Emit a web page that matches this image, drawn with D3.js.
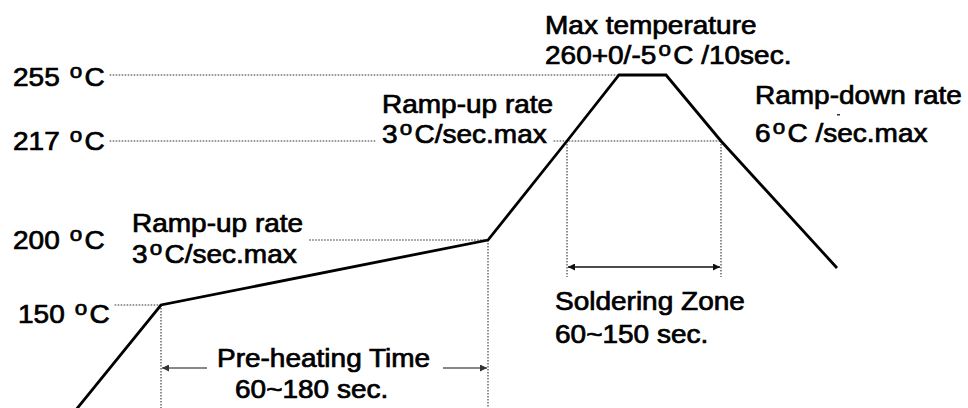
<!DOCTYPE html>
<html><head><meta charset="utf-8">
<script src="https://cdn.jsdelivr.net/npm/d3@7"></script>
<style>body{margin:0;background:#fff} text{white-space:pre}</style>
</head><body>
<svg id="c" width="968" height="408"></svg>
<script>
// ---- data (schematic reflow profile) ----
const profileTime = [9, 60.5, 224, 263.5, 289.5, 313, 340.5, 398.5];
const profileTemp = [25, 150, 200, 217, 255, 255, 217, 178.5];
const tempLevels  = [255, 217, 200, 150];
const tempLabels  = ["255 ºC", "217 ºC", "200 ºC", "150 ºC"];
const preheatTimes = [60.5, 224];
const solderTimes  = [263.5, 340.5];
const peakTime = 289.5;
const maxTempText   = ["Max temperature", "260+0/-5ºC /10sec."];
const rampUp1Text   = ["Ramp-up rate", "3ºC/sec.max"];
const rampUp2Text   = ["Ramp-up rate", "3ºC/sec.max"];
const rampDownText  = ["Ramp-down rate", "6ºC /sec.max"];
const preheatText   = ["Pre-heating Time", "60~180 sec."];
const solderText    = ["Soldering Zone", "60~150 sec."];

// ---- setup ----
const svg = d3.select("#c");
svg.append("rect").attr("width", 968).attr("height", 408).attr("fill", "#fff");
const W = 968, H = 408;
const x = d3.scaleLinear().domain([0, 450]).range([40, 940]);
const y = d3.scaleLinear().domain([25, 150, 200, 217, 255]).range([432, 305, 240, 141, 75]);

const FS = 25, SX = 1.12, FONT = "'Liberation Sans', Arial, Helvetica, sans-serif";

function addText(g, str, tx, ty) {
  const t = g.append("text")
    .attr("transform", `translate(${tx},${ty}) scale(${SX},1)`)
    .attr("font-family", FONT).attr("font-size", FS)
    .attr("fill", "#000").attr("stroke", "#000").attr("stroke-width", 0.7);
  const parts = str.split("º");
  t.append("tspan").text(parts[0]);
  for (let i = 1; i < parts.length; i++) {
    t.append("tspan").attr("font-size", 20).attr("dx", 2).attr("dy", -8).text("o");
    t.append("tspan").attr("dx", 2).attr("dy", 8).text(parts[i]);
  }
  return t;
}
function addBlock(g, lines, tx, ty, lh, dx2) {
  return lines.map((s, i) => addText(g, s, tx + (i === 1 && dx2 ? dx2 : 0), ty + i * lh));
}

const gGuide = svg.append("g");
const gMask = svg.append("g");
const gText = svg.append("g");
const gLine = svg.append("g");

// ---- texts ----
const labelDx = [13, 13, 13, 18];
const labelDy = [11, 9, 9, 18];
const labelNodes = tempLevels.map((t, i) => addText(gText, tempLabels[i], labelDx[i], y(t) + labelDy[i]));

addBlock(gText, maxTempText, 545, 34, 30);
const ru1 = addBlock(gText, rampUp1Text, 382, 113, 30);
const ru2 = addBlock(gText, rampUp2Text, 132, 232, 31);
addBlock(gText, rampDownText, 755, 104, 38);
addBlock(gText, preheatText, 217, 367, 31, 18);
addBlock(gText, solderText, 555, 310, 33);

// small stray tick mark seen under "Ramp-down rate"
gText.append("rect").attr("x", 837).attr("y", 114).attr("width", 3).attr("height", 1.5).attr("fill", "#333");

const rightOf = n => n.node().getBoundingClientRect().right;

// white mask behind upper ramp-up second line (interrupts 217 guide)
const bb = ru1[1].node().getBoundingClientRect();
gMask.append("rect").attr("x", bb.left - 6).attr("y", bb.top).attr("width", bb.width + 12).attr("height", bb.height).attr("fill", "#fff");

// ---- guide (dotted) lines ----
const dotted = sel => sel.attr("stroke", "#333").attr("stroke-width", 1.1).attr("stroke-dasharray", "1.6,1.4").attr("fill", "none");
const hGuides = [
  {t: 255, x0: rightOf(labelNodes[0]) + 5, x1: x(peakTime)},
  {t: 217, x0: rightOf(labelNodes[1]) + 5, x1: x(solderTimes[1])},
  {t: 200, x0: rightOf(ru2[0]) + 6, x1: x(preheatTimes[1])},
  {t: 150, x0: rightOf(labelNodes[3]) + 5, x1: x(preheatTimes[0])}
];
hGuides.forEach(g => dotted(gGuide.append("line").attr("x1", g.x0).attr("x2", g.x1).attr("y1", y(g.t)).attr("y2", y(g.t))));
// verticals
dotted(gGuide.append("line").attr("x1", x(preheatTimes[0])).attr("x2", x(preheatTimes[0])).attr("y1", y(150)).attr("y2", H));
dotted(gGuide.append("line").attr("x1", x(preheatTimes[1])).attr("x2", x(preheatTimes[1])).attr("y1", y(200)).attr("y2", H));
solderTimes.forEach(t => dotted(gGuide.append("line").attr("x1", x(t)).attr("x2", x(t)).attr("y1", y(217)).attr("y2", 277)));

// ---- arrows ----
const defs = svg.append("defs");
function marker(id, color) {
  defs.append("marker").attr("id", id).attr("viewBox", "0 0 10 10").attr("refX", 10).attr("refY", 5)
    .attr("markerWidth", 10).attr("markerHeight", 7).attr("markerUnits", "userSpaceOnUse").attr("orient", "auto-start-reverse")
    .append("path").attr("d", "M0,0L10,5L0,10Z").attr("fill", color);
}
marker("ab", "#111");
marker("ag", "#333");
// soldering zone double arrow
gLine.append("line").attr("x1", x(solderTimes[0]) + 1).attr("x2", x(solderTimes[1]) - 1).attr("y1", 267).attr("y2", 267)
  .attr("stroke", "#111").attr("stroke-width", 1.6).attr("marker-start", "url(#ab)").attr("marker-end", "url(#ab)");
// preheat arrows
gLine.append("line").attr("x1", x(preheatTimes[0]) + 46).attr("x2", x(preheatTimes[0]) + 1).attr("y1", 368).attr("y2", 368)
  .attr("stroke", "#888").attr("stroke-width", 2).attr("marker-end", "url(#ag)");
gLine.append("line").attr("x1", x(preheatTimes[1]) - 45).attr("x2", x(preheatTimes[1]) - 1).attr("y1", 368).attr("y2", 368)
  .attr("stroke", "#888").attr("stroke-width", 2).attr("marker-end", "url(#ag)");

// ---- profile line ----
const pts = profileTime.map((t, i) => [t, profileTemp[i]]);
gLine.append("path").datum(pts)
  .attr("d", d3.line().x(d => x(d[0])).y(d => y(d[1])))
  .attr("fill", "none").attr("stroke", "#000").attr("stroke-width", 2.8).attr("stroke-linejoin", "miter");
</script>
</body></html>
